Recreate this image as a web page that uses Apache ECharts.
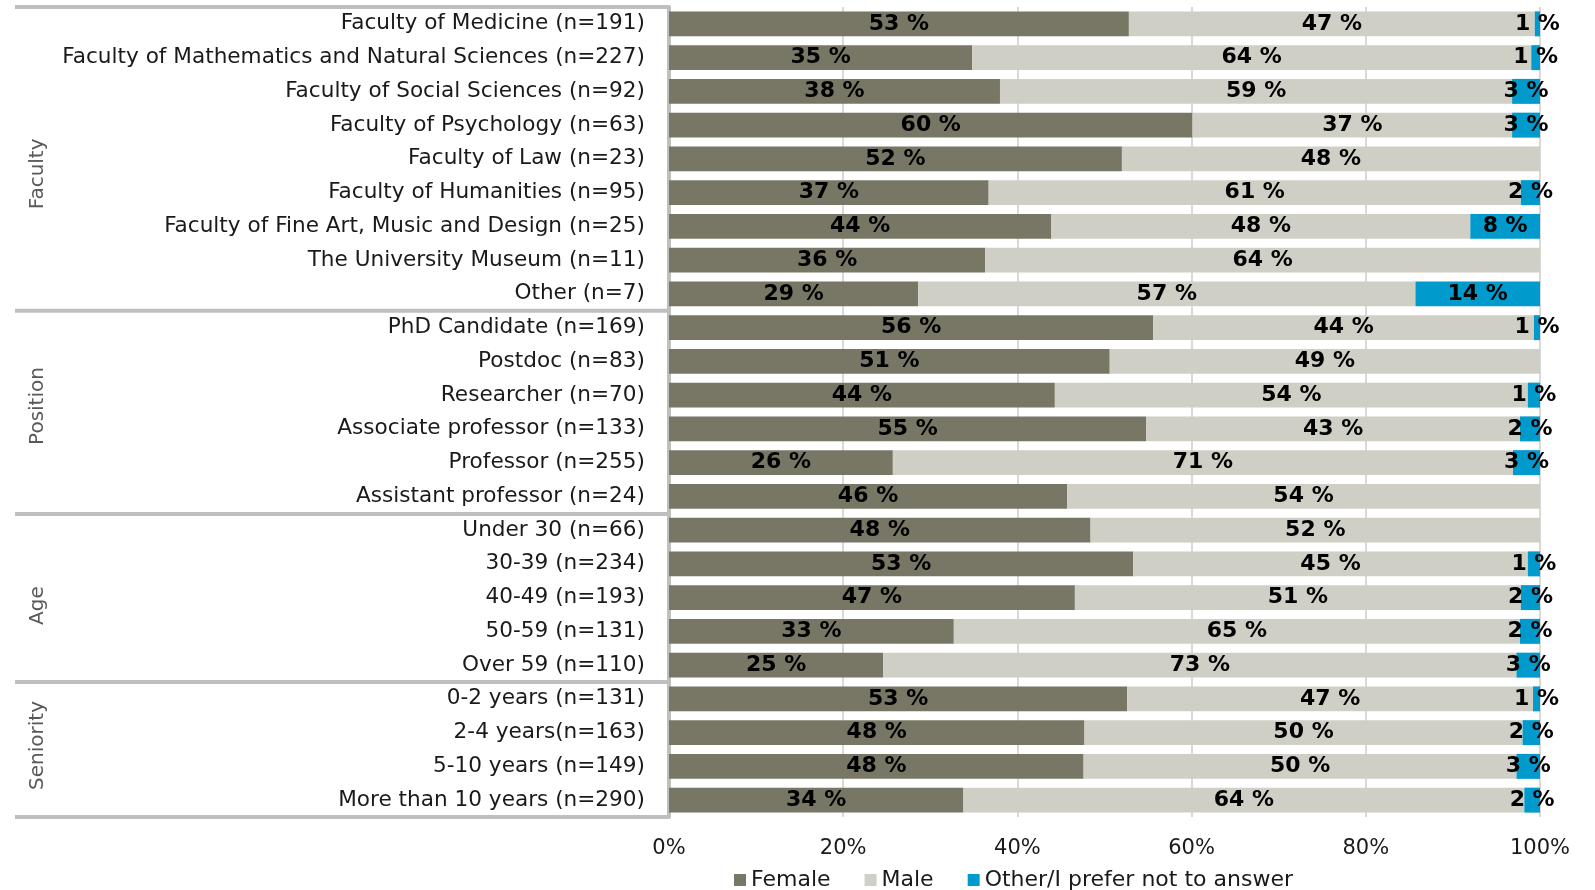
<!DOCTYPE html>
<html>
<head>
<meta charset="utf-8">
<script src="https://cdn.jsdelivr.net/npm/echarts@6/dist/echarts.min.js"></script>
<style>
html, body { margin: 0; padding: 0; background: #fff; }
#chart { width: 1595px; height: 890px; }
</style>
</head>
<body>
<div id="chart"></div>
<script>
const categories = [
  'Faculty of Medicine (n=191)',
  'Faculty of Mathematics and Natural Sciences (n=227)',
  'Faculty of Social Sciences (n=92)',
  'Faculty of Psychology (n=63)',
  'Faculty of Law (n=23)',
  'Faculty of Humanities (n=95)',
  'Faculty of Fine Art, Music and Design (n=25)',
  'The University Museum (n=11)',
  'Other (n=7)',
  'PhD Candidate (n=169)',
  'Postdoc (n=83)',
  'Researcher (n=70)',
  'Associate professor (n=133)',
  'Professor (n=255)',
  'Assistant professor (n=24)',
  'Under 30 (n=66)',
  '30-39 (n=234)',
  '40-49 (n=193)',
  '50-59 (n=131)',
  'Over 59 (n=110)',
  '0-2 years (n=131)',
  '2-4 years(n=163)',
  '5-10 years (n=149)',
  'More than 10 years (n=290)'
]
const female = [52.8, 34.8, 38.0, 60.1, 52.0, 36.7, 43.9, 36.3, 28.6,
  55.6, 50.6, 44.3, 54.8, 25.7, 45.7,
  48.4, 53.3, 46.6, 32.7, 24.6,
  52.6, 47.7, 47.6, 33.8]
const male = [46.6, 64.2, 58.8, 36.7, 48.0, 61.1, 48.1, 63.7, 57.1,
  43.7, 49.4, 54.3, 42.9, 71.2, 54.3,
  51.6, 45.3, 51.2, 65.0, 72.7,
  46.6, 50.3, 49.7, 64.4]
const other = [0.6, 1.0, 3.2, 3.2, 0, 2.2, 8.0, 0, 14.3,
  0.7, 0, 1.4, 2.3, 3.1, 0,
  0, 1.4, 2.2, 2.3, 2.7,
  0.8, 2.0, 2.7, 1.8]
const seriesNames = ['Female', 'Male', 'Other/I prefer not to answer']
const groupNames = ['Faculty', 'Position', 'Age', 'Seniority']
const groupSizes = [9, 6, 5, 4]
// the group titles are not quite centred in the original
const groupShift = [15, -6, 8, -4]

// first category index of every group
const groupStarts = []
let n = 0
groupSizes.forEach(s => { groupStarts.push(n); n += s })

const font = '"DejaVu Sans", sans-serif'
const sepColor = '#BFBFBF'

let chartDom = document.getElementById('chart')
let myChart = echarts.init(chartDom)

function barSeries (name, data, color) {
  return {
    name: name,
    type: 'bar',
    stack: 'total',
    data: data,
    barCategoryGap: '26%',
    itemStyle: { color: color },
    label: {
      show: true,
      position: 'inside',
      color: '#000',
      fontFamily: font,
      fontWeight: 'bold',
      fontSize: 22,
      formatter: p => p.value > 0 ? Math.round(p.value) + ' %' : ''
    }
  }
}

let option = {
  animation: false,
  grid: { left: 669, right: 55, top: 7, bottom: 73 },
  xAxis: {
    type: 'value',
    min: 0,
    max: 100,
    interval: 20,
    axisLine: { show: false },
    axisTick: { show: false },
    axisLabel: {
      formatter: '{value}%',
      color: '#1a1a1a',
      fontFamily: font,
      fontSize: 21,
      margin: 21
    },
    splitLine: { lineStyle: { color: '#D9D9D9', width: 2 } }
  },
  yAxis: {
    type: 'category',
    inverse: true,
    data: categories,
    axisLine: { show: true, lineStyle: { color: sepColor, width: 4 } },
    axisTick: {
      show: true,
      length: 654,
      interval: (idx) => groupStarts.includes(idx),
      lineStyle: { color: sepColor, width: 4 }
    },
    axisLabel: {
      color: '#1a1a1a',
      fontFamily: font,
      fontSize: 21.6,
      margin: 24,
      interval: 0
    }
  },
  legend: {
    left: 729,
    top: 864,
    icon: 'rect',
    itemWidth: 12,
    itemHeight: 12,
    itemGap: 34,
    textStyle: { color: '#1a1a1a', fontFamily: font, fontSize: 22 },
    data: seriesNames
  },
  series: [
    barSeries(seriesNames[0], female, '#787766'),
    barSeries(seriesNames[1], male, '#D0CFC6'),
    barSeries(seriesNames[2], other, '#009ACD')
  ]
}
myChart.setOption(option)

// group titles on the left, placed at the middle of each group's bands
let graphics = groupNames.map((g, i) => {
  const first = categories[groupStarts[i]]
  const last = categories[groupStarts[i] + groupSizes[i] - 1]
  const y = (myChart.convertToPixel({ yAxisIndex: 0 }, first) + myChart.convertToPixel({ yAxisIndex: 0 }, last)) / 2
  return {
    type: 'text',
    x: 38,
    y: y + groupShift[i],
    rotation: Math.PI / 2,
    style: {
      text: g,
      fill: '#595959',
      font: '20px "DejaVu Sans", sans-serif',
      textAlign: 'center',
      textVerticalAlign: 'middle'
    }
  }
})
myChart.setOption({ graphic: graphics })
window.onresize = myChart.resize
</script>
</body>
</html>
